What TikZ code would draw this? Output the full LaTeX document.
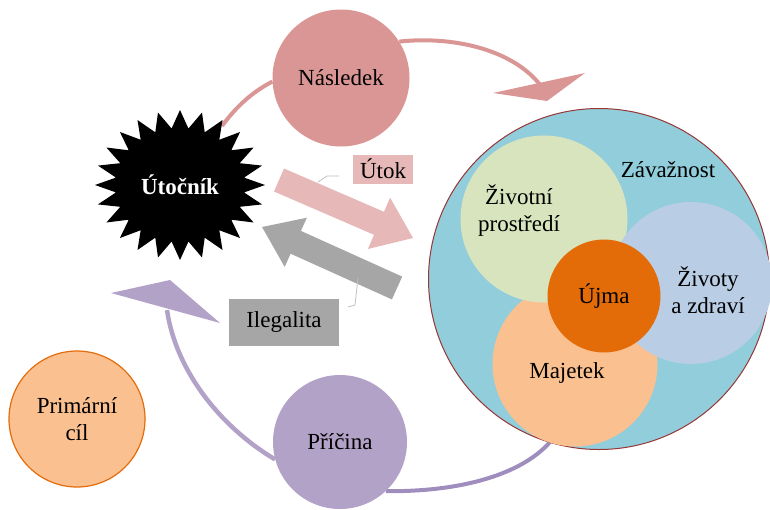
\documentclass[tikz,border=0pt]{standalone}
\usepackage{fontspec}
\setmainfont{Liberation Serif}
\usetikzlibrary{backgrounds}
\definecolor{naslc}{HTML}{D99694}
\definecolor{utokc}{HTML}{E6B9B8}
\definecolor{grayc}{HTML}{A6A6A6}
\definecolor{purpc}{HTML}{B3A2C7}
\definecolor{purpd}{HTML}{9F8DBE}
\definecolor{bluec}{HTML}{92CDDC}
\definecolor{borderc}{HTML}{953735}
\definecolor{greenc}{HTML}{D7E4BD}
\definecolor{lblue}{HTML}{B9CDE5}
\definecolor{peach}{HTML}{FAC090}
\definecolor{orangec}{HTML}{E36C09}
\definecolor{orangeb}{HTML}{E46C0A}
\begin{document}
\begin{tikzpicture}[x=1pt,y=-1pt,
  font=\fontsize{23}{27}\selectfont,
  bub/.style={circle, inner sep=0pt, align=center, text=black},
  lbl/.style={rectangle, inner sep=0pt, align=center, text=black},
  pinkarc/.style={draw=naslc, line width=4pt},
  purparc/.style={draw=purpc, line width=4.5pt},
  leader/.style={draw=black!25, line width=0.8pt}]
\useasboundingbox (0,0) rectangle (770,509);

% nodes (circles)
\node[bub, fill=naslc, minimum size=137pt] (nasl) at (341,78) {Následek};
\node[bub, fill=purpc, minimum size=134pt] (pric) at (340,442) {Příčina};
\node[bub, fill=peach, draw=orangeb, line width=1.2pt, minimum size=136pt] (prim) at (77,419) {Primární\\cíl};

% cycle arcs (behind circles)
\coordinate (s1) at (222,126);
\coordinate (a1) at (541,86);
\coordinate (a2) at (167,310);
\coordinate (b2) at (550,442);
\begin{scope}[on background layer]
\draw[pinkarc] (s1) .. controls (236,107) and (252,92) .. (nasl.183);
\draw[pinkarc] (nasl.32) .. controls (450,36) and (512,48) .. (a1);
\fill[naslc] (493,93) -- (585,73) -- (547,101) -- cycle;
\draw[purparc] (pric.195) .. controls (222,428) and (176,372) .. (a2);
\fill[purpc] (111,293) -- (170,280) -- (220,323) -- cycle;
\draw[draw=purpd, line width=4pt] (pric.313) .. controls (462,492) and (522,474) .. (b2);
\end{scope}

% star
\fill[black] plot[samples=49, domain=0:48, variable=\k]
  ({180+85*(1-0.24*mod(round(\k),2))*cos(\k*7.5+90)},
   {185-75*(1-0.24*mod(round(\k),2))*sin(\k*7.5+90)}) -- cycle;
\node[text=white, font=\fontsize{23}{27}\selectfont\bfseries] (uto) at (180,185) {Útočník};

% big circle
\node[circle, fill=bluec, draw=borderc, line width=1pt, minimum size=341pt, inner sep=0pt] (zav) at (599,279) {};
\node[bub, fill=peach, minimum size=165pt] (maj) at (575,364) {};
\node[bub, fill=greenc, minimum size=167pt] (ziv) at (544,219) {};
\node[bub, fill=lblue, minimum size=162pt] (zdr) at (691,283) {};
\node[bub, fill=orangec, minimum size=113pt] (ujma) at (604,296) {Újma};
\node[lbl] at (668,170) {Závažnost};
\node[lbl] at (519,211) {Životní\\prostředí};
\node[lbl] at (708,290) {Životy\\a zdraví};
\node[lbl] at (567,373) {Majetek};

% block arrows
\fill[utokc] (274.0,191.5) -- (284.0,168.5) -- (384,211.8) -- (390.1,197.6)
  -- (413,238) -- (367.9,249) -- (374,234.8) -- cycle;
\fill[grayc] (402.2,276.6) -- (300.9,230.9) -- (306.9,217.7) -- (262,227)
  -- (284.7,266.9) -- (290.6,253.7) -- (391.9,299.4) -- cycle;

% labels
\node[lbl, fill=utokc, minimum width=60pt, minimum height=29pt] (utok) at (383,169) {Útok};
\node[lbl, fill=grayc, minimum width=110pt, minimum height=47pt] (ileg) at (284,322) {Ilegalita};
\coordinate (u1) at (339,176);
\coordinate (u2) at (318,182);
\draw[leader] (u1) -- (327,176) -- (u2);
\coordinate (i1) at (348,307);
\coordinate (i2) at (358,278);
\draw[leader] (i1) -- (355,305) -- (i2);
\end{tikzpicture}
\end{document}
